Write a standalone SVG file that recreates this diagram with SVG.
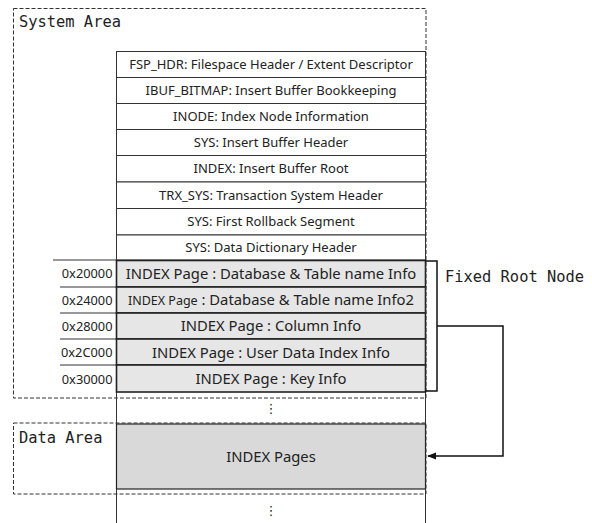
<svg xmlns="http://www.w3.org/2000/svg" width="592" height="523" viewBox="0 0 592 523">
  <style>
    .area { fill: none; stroke: #333; stroke-width: 1; stroke-dasharray: 4 2; }
    .cell { fill: #fff; stroke: #333; stroke-width: 1; }
    .sys { fill: #e6e6e6; stroke: #222; stroke-width: 1.6; }
    .data { fill: #d9d9d9; stroke: #222; stroke-width: 1.2; }
    .col { stroke: #333; stroke-width: 1; fill: none; }
    .mono { font-family: "DejaVu Sans Mono", "Liberation Mono", monospace; font-size: 15.4px; fill: #222; }
    .lbl { font-family: "Noto Sans", "Liberation Sans", sans-serif; font-size: 13px; fill: #222; text-anchor: middle; }
    .big { font-family: "Noto Sans", "Liberation Sans", sans-serif; font-size: 14.8px; fill: #222; text-anchor: middle; }
    .addr { font-family: "Noto Sans", "Liberation Sans", sans-serif; font-size: 12.8px; fill: #222; text-anchor: end; }
    .dots { font-family: "DejaVu Sans", sans-serif; font-size: 13px; fill: #222; text-anchor: middle; }
    .link { fill: none; stroke: #111; stroke-width: 1.5; }
  </style>
  <defs>
    <marker id="arrow" viewBox="0 0 10 10" refX="9" refY="5" markerWidth="6" markerHeight="6" orient="auto">
      <path d="M0,1 L10,5 L0,9 z" fill="#111"/>
    </marker>
  </defs>
  <rect width="592" height="523" fill="#fff"/>

  <!-- page column continuation lines -->
  <g id="column">
    <line class="col" x1="116.5" y1="51" x2="116.5" y2="523"/>
    <line class="col" x1="425.5" y1="51" x2="425.5" y2="523"/>
  </g>

  <!-- fixed system pages -->
  <g id="fsp-hdr"><rect class="cell" x="116.5" y="51.5" width="309" height="26"/><text class="lbl" x="271" y="69">FSP_HDR: Filespace Header / Extent Descriptor</text></g>
  <g id="ibuf-bitmap"><rect class="cell" x="116.5" y="77.5" width="309" height="26"/><text class="lbl" x="271" y="95">IBUF_BITMAP: Insert Buffer Bookkeeping</text></g>
  <g id="inode"><rect class="cell" x="116.5" y="103.5" width="309" height="26"/><text class="lbl" x="271" y="121">INODE: Index Node Information</text></g>
  <g id="sys-ibuf-header"><rect class="cell" x="116.5" y="129.5" width="309" height="26"/><text class="lbl" x="271" y="147">SYS: Insert Buffer Header</text></g>
  <g id="index-ibuf-root"><rect class="cell" x="116.5" y="155.5" width="309" height="26.5"/><text class="lbl" x="271" y="173">INDEX: Insert Buffer Root</text></g>
  <g id="trx-sys"><rect class="cell" x="116.5" y="182" width="309" height="26.5"/><text class="lbl" x="271" y="200">TRX_SYS: Transaction System Header</text></g>
  <g id="sys-rollback"><rect class="cell" x="116.5" y="208.5" width="309" height="26.5"/><text class="lbl" x="271" y="226">SYS: First Rollback Segment</text></g>
  <g id="sys-dict-header"><rect class="cell" x="116.5" y="235" width="309" height="25"/><text class="lbl" x="271" y="252">SYS: Data Dictionary Header</text></g>

  <!-- data dictionary index pages -->
  <g id="idx-20000">
    <line class="col" x1="53" y1="260" x2="116" y2="260" stroke-width="1.5"/>
    <rect class="sys" x="116.5" y="260.5" width="309" height="26.5"/>
    <text class="addr" x="112.5" y="278">0x20000</text>
    <text class="big" x="271" y="279">INDEX Page : Database &amp; Table name Info</text>
  </g>
  <g id="idx-24000">
    <line class="col" x1="60" y1="287" x2="116" y2="287" stroke-width="1.5"/>
    <rect class="sys" x="116.5" y="287" width="309" height="26"/>
    <text class="addr" x="112.5" y="305">0x24000</text>
    <text class="big" x="271" y="305"><tspan font-size="12.5px">INDEX Page</tspan> : Database &amp; Table name Info2</text>
  </g>
  <g id="idx-28000">
    <line class="col" x1="60" y1="313" x2="116" y2="313" stroke-width="1.5"/>
    <rect class="sys" x="116.5" y="313" width="309" height="26"/>
    <text class="addr" x="112.5" y="331">0x28000</text>
    <text class="big" x="271" y="331">INDEX Page : Column Info</text>
  </g>
  <g id="idx-2c000">
    <line class="col" x1="60" y1="339" x2="116" y2="339" stroke-width="1.5"/>
    <rect class="sys" x="116.5" y="339" width="309" height="26"/>
    <text class="addr" x="112.5" y="357">0x2C000</text>
    <text class="big" x="271" y="358">INDEX Page : User Data Index Info</text>
  </g>
  <g id="idx-30000">
    <line class="col" x1="60" y1="365" x2="116" y2="365" stroke-width="1.5"/>
    <rect class="sys" x="116.5" y="365" width="309" height="27"/>
    <text class="addr" x="112.5" y="384">0x30000</text>
    <text class="big" x="271" y="384">INDEX Page : Key Info</text>
  </g>

  <g id="gap-1"><text class="dots" x="271" y="413">⋮</text></g>

  <g id="index-pages">
    <rect class="data" x="116.5" y="424" width="309" height="65"/>
    <text class="big" x="271" y="462">INDEX Pages</text>
  </g>

  <g id="gap-2"><text class="dots" x="271" y="515">⋮</text></g>

  <!-- area boundaries -->
  <g id="system-area">
    <rect class="area" x="13.5" y="8.5" width="412.5" height="389.5"/>
    <text class="mono" x="19" y="27">System Area</text>
  </g>
  <g id="data-area">
    <rect class="area" x="13.5" y="423" width="412.5" height="71"/>
    <text class="mono" x="19" y="443">Data Area</text>
  </g>

  <g id="fixed-root-label">
    <text class="mono" x="445" y="282">Fixed Root Node</text>
  </g>

  <!-- connectors -->
  <g id="connectors">
    <path class="link" d="M425,261 H437 V391 H425"/>
    <path class="link" d="M437,326 H503 V456 H428" marker-end="url(#arrow)"/>
  </g>
</svg>
